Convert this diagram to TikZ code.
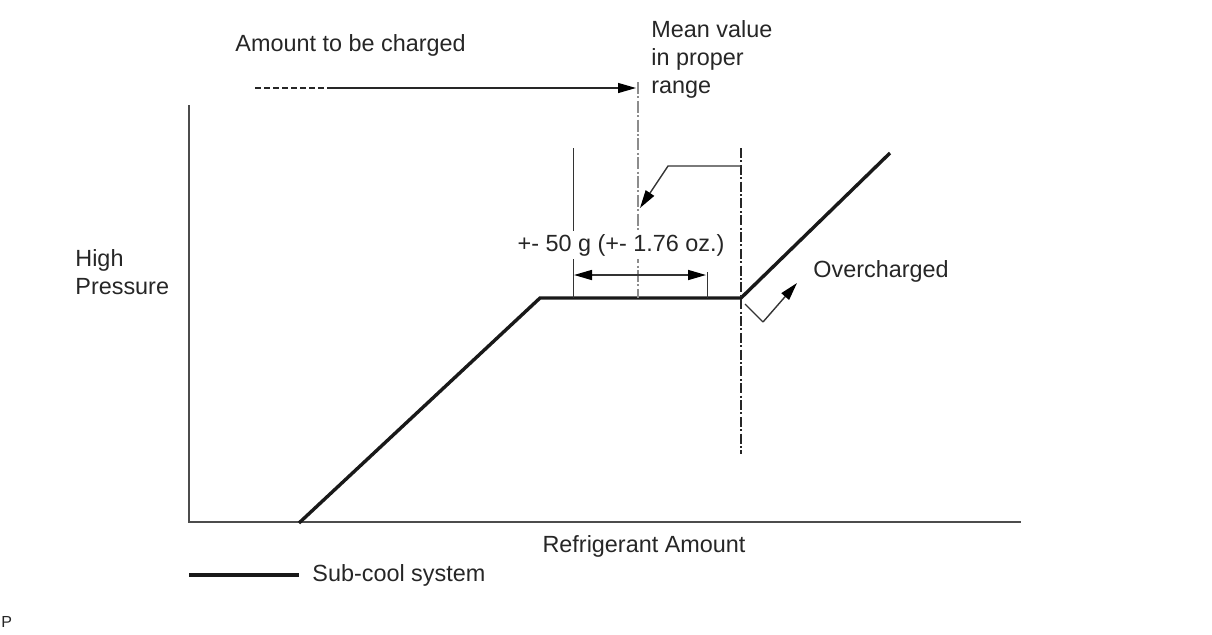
\documentclass[tikz,border=0pt]{standalone}
\usepackage{fontspec}
\setmainfont{Liberation Sans}
\usetikzlibrary{arrows.meta}
\begin{document}
\begin{tikzpicture}[x=0.5pt,y=-0.5pt,
  lbl/.style={inner sep=0pt,font=\fontsize{11.7}{14.2}\selectfont,text=black!85},
  axis/.style={line width=0.7pt,draw=black!70},
  curve/.style={line width=1.7pt,draw=black!90},
  thin/.style={line width=0.5pt,draw=black!80},
  dashdot/.style={line width=0.65pt,draw=black!85,dash pattern=on 5pt off 1.2pt on 1pt off 1.2pt},
  meanline/.style={line width=0.6pt,draw=black!45,dash pattern=on 6pt off 1.2pt on 1pt off 1.2pt},
  arr/.style={-{Triangle[length=9pt,width=5pt,color=black]}},
  darr/.style={{Triangle[length=9pt,width=5pt,color=black]}-{Triangle[length=9pt,width=5pt,color=black]}}]
\useasboundingbox (0,0) rectangle (1212,634);
% axes
\coordinate (ytop) at (189,105);
\coordinate (origin) at (189,522);
\coordinate (xend) at (1021,522);
\draw[axis] (ytop) -- (origin) -- (xend);
% curve
\coordinate (c0) at (299,523);
\coordinate (c1) at (540,298);
\coordinate (c2) at (741,298);
\coordinate (c3) at (890,153);
\draw[curve,line join=miter] (c0) -- (c1) -- (c2) -- (c3);
% vertical guide lines
\coordinate (g1t) at (741,148);
\coordinate (g1b) at (741,454);
\draw[dashdot] (g1t) -- (g1b);
\coordinate (mt) at (638,82);
\coordinate (mb) at (638,298);
\draw[meanline] (mt) -- (mb);
\coordinate (l1t) at (573,148);
\coordinate (l1b) at (573,298);
\draw[thin] (l1t) -- (l1b);
\coordinate (l2t) at (707,272);
\coordinate (l2b) at (707,298);
\draw[thin] (l2t) -- (l2b);
% dimension arrow
\coordinate (d1) at (574,275);
\coordinate (d2) at (706,275);
\draw[thin,line width=0.8pt,darr] (d1) -- (d2);
% leader from right line to mean line
\coordinate (ld0) at (741,166);
\coordinate (ld1) at (668,166);
\coordinate (ld2) at (640,208);
\draw[thin,line width=0.7pt,arr] (ld0) -- (ld1) -- (ld2);
% texts
\node[lbl,anchor=west] (amount) at (235,45) {Amount to be charged};
\node[lbl,anchor=north west,align=left] (mean) at (651,20) {Mean value\\[-0.1pt]in proper\\[-0.1pt]range};
\node[lbl,anchor=west,align=left] (hp) at (75,272) {High\\Pressure};
\node[lbl,anchor=west] (over) at (813,271) {Overcharged};
\node[lbl,fill=white,inner ysep=1.5pt,inner xsep=0pt] (tol) at (621,245) {+- 50 g (+- 1.76 oz.)};
\node[lbl] (xlab) at (644,546) {Refrigerant Amount};
\node[lbl,anchor=west] (leg) at (312,575) {Sub-cool system};
\node[lbl,anchor=west,font=\fontsize{8}{9}\selectfont] (pmark) at (1,622) {P};
% amount to be charged arrow
\coordinate (a0) at (255,88);
\coordinate (a1) at (636,88);
\draw[line width=0.65pt,draw=black!85,arr,dash pattern=on 3pt off 1.5pt on 3pt off 1.5pt on 3pt off 1.5pt on 3pt off 1.5pt on 3pt off 1.5pt on 3pt off 1.5pt on 3pt off 1.5pt on 3pt off 1.5pt on 400pt off 0pt] (a0) -- (a1);
% overcharged arrow
\coordinate (o0) at (745,304);
\coordinate (o1) at (763,322);
\coordinate (o2) at (797,283);
\draw[thin,line width=0.6pt] (o0) -- (o1);
\draw[thin,line width=0.7pt,arr] (o1) -- (o2);
% legend line
\coordinate (lg0) at (189,575);
\coordinate (lg1) at (299,575);
\draw[curve] (lg0) -- (lg1);
\end{tikzpicture}
\end{document}
